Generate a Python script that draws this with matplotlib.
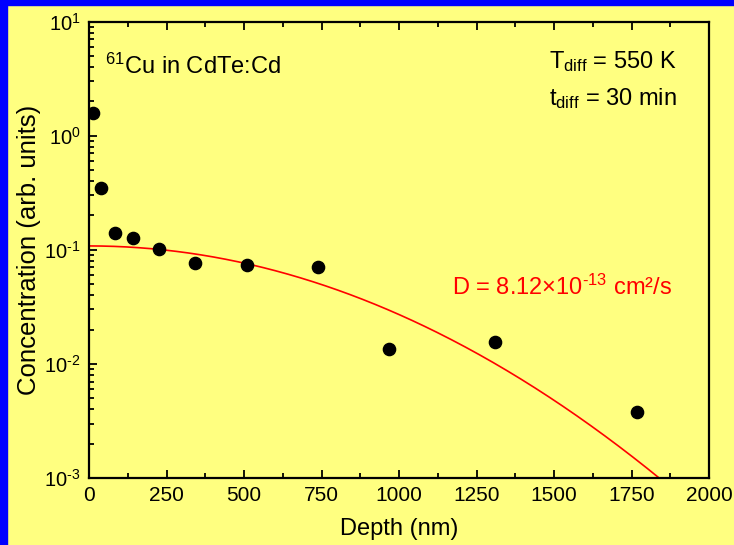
import numpy as np
import matplotlib
matplotlib.use("Agg")
import matplotlib.pyplot as plt
from matplotlib.patches import Rectangle
from matplotlib.ticker import FixedLocator, LogLocator, NullFormatter

# measured points
depth_nm = [14, 39, 84, 141, 226, 342, 510, 740, 967, 1310, 1768]
conc = [1.57, 0.347, 0.139, 0.127, 0.101, 0.0764, 0.0734, 0.0701, 0.0135, 0.0156, 0.00378]

# gaussian fit parameters (surface conc., diffusion length in nm)
fit_c0 = 0.108
fit_len = 850.0

x_ticks = [0, 250, 500, 750, 1000, 1250, 1500, 1750, 2000]
y_ticks = [1e-3, 1e-2, 1e-1, 1e0, 1e1]
y_ticklabels = ['$10^{\u20103}$', '$10^{\u20102}$', '$10^{\u20101}$', '$10^{0}$', '$10^{1}$']

plt.rcParams['font.family'] = ['Liberation Sans', 'DejaVu Sans']
plt.rcParams['mathtext.fontset'] = 'custom'
plt.rcParams['mathtext.rm'] = 'Liberation Sans'
plt.rcParams['mathtext.it'] = 'Liberation Sans:italic'
plt.rcParams['mathtext.default'] = 'regular'

yellow = '#ffff80'
fig = plt.figure(figsize=(7.34, 5.45), dpi=100, facecolor=yellow)
ax = fig.add_axes([89/734, 1 - 478/545, 620/734, (478 - 21.5)/545])
ax.set_facecolor(yellow)

# blue frame (left and top)
fig.patches.append(Rectangle((0, 0), 7/734, 1, transform=fig.transFigure, color='#0000ff', zorder=0))
fig.patches.append(Rectangle((0, 1 - 5/545), 1, 5/545, transform=fig.transFigure, color='#0000ff', zorder=0))

xx = np.linspace(0, 2000, 400)
ax.plot(xx, fit_c0*np.exp(-(xx/fit_len)**2), color='#ff0000', lw=1.2, zorder=2)
ax.plot(depth_nm, conc, 'o', color='black', ms=8.8, zorder=3)

ax.set_yscale('log')
ax.set_xlim(0, 2000)
ax.set_ylim(1e-3, 1e1)
ax.xaxis.set_major_locator(FixedLocator(x_ticks))
ax.xaxis.set_minor_locator(FixedLocator(np.arange(125, 2000, 250)))
ax.set_yticks(y_ticks)
ax.set_yticklabels(y_ticklabels)
ax.yaxis.set_minor_locator(LogLocator(base=10, subs=np.arange(2, 10)))
ax.yaxis.set_minor_formatter(NullFormatter())

ax.tick_params(which='both', direction='in', top=True, right=False, labelsize=15, width=1.3, colors='black')
ax.tick_params(axis='y', labelsize=14.5)
ax.tick_params(which='major', length=6)
ax.tick_params(which='minor', length=3.5)
ax.tick_params(axis='x', pad=6)
ax.tick_params(axis='y', pad=6)
for s in ax.spines.values():
    s.set_linewidth(1.6)

ax.set_xlabel('Depth (nm)', fontsize=17, labelpad=9)
ax.set_ylabel('Concentration (arb. units)', fontsize=18.5, labelpad=2)

ax.text(105, 545 - 74, '$^{61}$Cu in CdTe:Cd', transform=None, fontsize=17)
ax.text(549, 545 - 68, 'T$_{diff}$ = 550 K', transform=None, fontsize=17)
ax.text(549, 545 - 105, 't$_{diff}$ = 30 min', transform=None, fontsize=17)
ax.text(452, 545 - 295, 'D = 8.12×10$^{\u201013}$ cm²/s', transform=None, fontsize=17, color='#ff0000')

fig.savefig('out.png', dpi=100, facecolor=yellow)
